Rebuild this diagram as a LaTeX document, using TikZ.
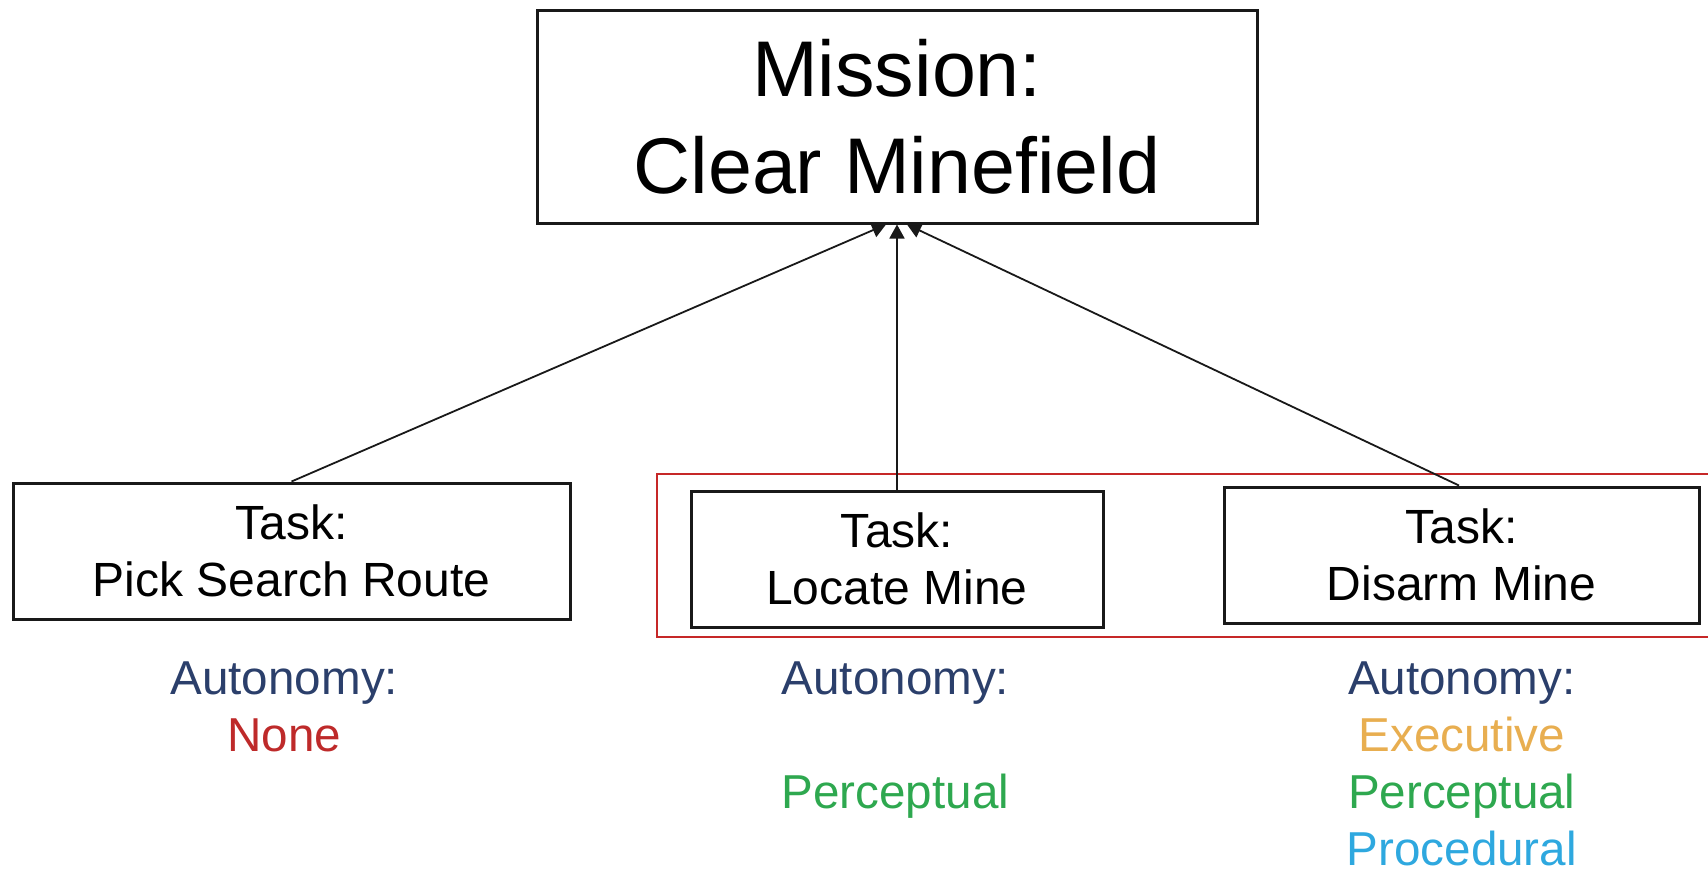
\documentclass[tikz,border=0pt]{standalone}
\usepackage{fontspec}
\setmainfont{Liberation Sans}
\usetikzlibrary{arrows.meta,calc}
\definecolor{autoblue}{HTML}{2B3F6B}
\definecolor{nonered}{HTML}{BE2A2A}
\definecolor{execorange}{HTML}{E8AE50}
\definecolor{percgreen}{HTML}{2EA84F}
\definecolor{procblue}{HTML}{2EA8DF}
\definecolor{groupred}{HTML}{C62828}
\tikzset{
  box/.style={draw=black!90, line width=1.5pt, align=center, inner sep=0pt},
  missionbox/.style={box, minimum width=360pt, minimum height=106.5pt,
    font=\fontsize{39.5}{48.5}\selectfont},
  taskbox/.style={box, minimum height=68pt, font=\fontsize{24}{28.3}\selectfont},
  label/.style={anchor=base, inner sep=0pt, font=\fontsize{23.8}{28.5}\selectfont},
  link/.style={line width=0.9pt, black!90, -{Triangle[length=7pt,width=7.5pt]}},
}
\begin{document}
\begin{tikzpicture}[x=0.5pt,y=-0.5pt]
  \useasboundingbox (0,0) rectangle (1708,869);
  \clip (0,0) rectangle (1708,869);

  % grouping frame around the two mine tasks (runs off the right edge)
  \draw[groupred, line width=1pt] (657,474) rectangle (1730,637);

  % mission and tasks
  \node[missionbox] (m) at (897,116.5) {Mission:\\Clear Minefield};
  \node[taskbox, minimum width=278.5pt] (t1) at (291.5,551) {Task:\\Pick Search Route};
  \node[taskbox, minimum width=206pt] (t2) at (897,559) {Task:\\Locate Mine};
  \node[taskbox, minimum width=237.5pt] (t3) at (1461.5,555) {Task:\\Disarm Mine};

  % links from tasks up to the mission
  \draw[link] (t1.north) -- ([xshift=-5.5pt]m.south);
  \draw[link] (t2.north) -- (m.south);
  \draw[link] ([xshift=-1.25pt]t3.north) -- ([xshift=5pt]m.south);

  % autonomy levels
  \node[label, text=autoblue] (a1) at (284.3,694) {Autonomy:};
  \node[label, text=nonered] (a1n) at (284.3,751) {None};

  \node[label, text=autoblue] (a2) at (895.4,694) {Autonomy:};
  \node[label, text=percgreen] (a2p) at (895.4,808) {Perceptual};

  \node[label, text=autoblue] (a3) at (1461.8,694) {Autonomy:};
  \node[label, text=execorange] (a3e) at (1461.8,751) {Executive};
  \node[label, text=percgreen] (a3p) at (1461.8,808) {Perceptual};
  \node[label, text=procblue] (a3r) at (1461.8,865) {Procedural};
\end{tikzpicture}
\end{document}
